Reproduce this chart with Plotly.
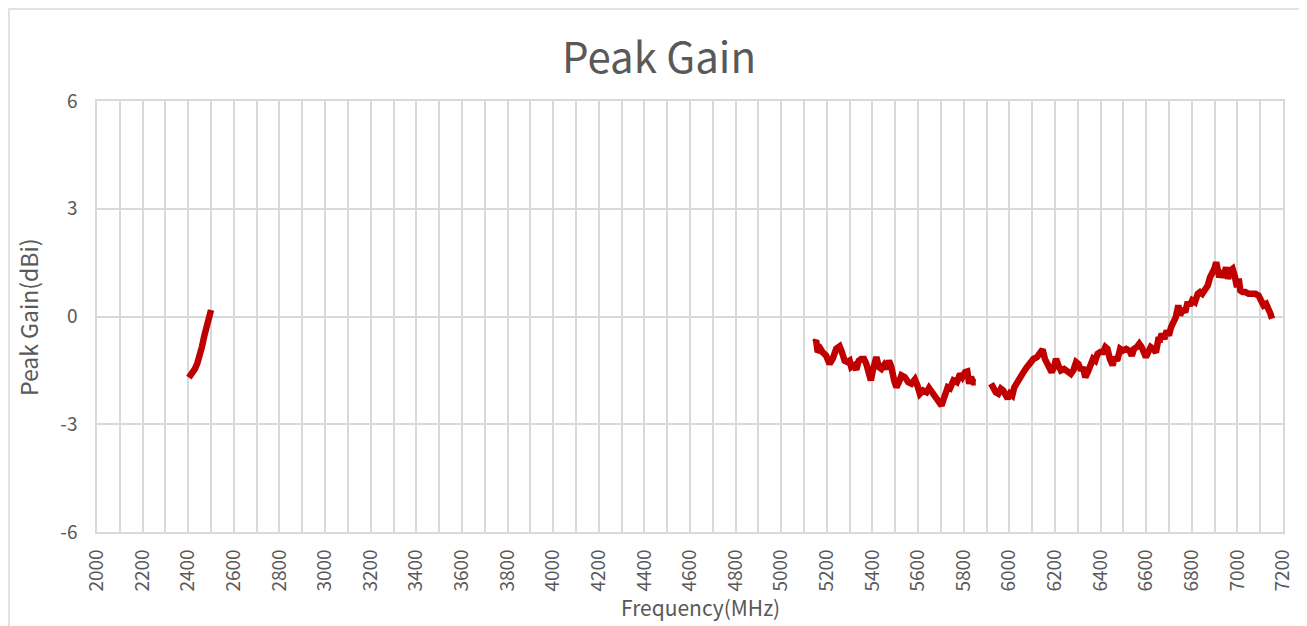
import plotly.graph_objects as go

# Segment 1: 2.4 GHz band
freq_24 = [2403, 2410, 2420, 2430, 2440, 2450, 2460, 2470, 2480, 2490, 2500]
gain_24 = [-1.70, -1.65, -1.55, -1.45, -1.30, -1.12, -0.85, -0.55, -0.30, -0.05, 0.18]

# Segment 2: 5.1-5.85 GHz
freq_5a = [5146, 5153, 5160, 5172, 5182, 5197, 5212, 5226, 5241, 5256, 5266, 5278, 5290, 5300,
           5307, 5319, 5329, 5340, 5351, 5363, 5373, 5384, 5393, 5403, 5417, 5428, 5439, 5451,
           5461, 5472, 5483, 5495, 5505, 5516, 5527, 5542, 5557, 5571, 5586, 5597, 5608, 5622,
           5637, 5648, 5662, 5677, 5691, 5703, 5710, 5721, 5730, 5740, 5755, 5770, 5784, 5794,
           5806, 5816, 5824, 5832, 5842, 5853]
gain_5a = [-0.72, -0.67, -0.99, -0.90, -1.00, -1.09, -1.32, -1.17, -0.90, -0.83, -0.99, -1.23, -1.27, -1.23,
           -1.41, -1.36, -1.48, -1.23, -1.18, -1.18, -1.32, -1.55, -1.78, -1.46, -1.13, -1.41, -1.46, -1.35,
           -1.46, -1.23, -1.41, -1.78, -1.97, -1.83, -1.64, -1.69, -1.83, -1.87, -1.75, -1.92, -2.15, -2.06,
           -2.11, -1.99, -2.11, -2.20, -2.34, -2.48, -2.34, -2.11, -1.97, -2.00, -1.78, -1.83, -1.60, -1.69,
           -1.55, -1.53, -1.87, -1.69, -1.83, -1.83]

# Segment 3: 5.92-7.15 GHz
freq_5b = [5920, 5930, 5941, 5952, 5963, 5973, 5984, 5993, 6003, 6013, 6022, 6033, 6047, 6062,
           6077, 6091, 6106, 6121, 6134, 6146, 6156, 6171, 6186, 6196, 6205, 6215, 6226, 6240,
           6255, 6270, 6281, 6293, 6303, 6314, 6323, 6333, 6344, 6355, 6367, 6377, 6387, 6399,
           6411, 6421, 6430, 6441, 6453, 6463, 6473, 6486, 6497, 6512, 6526, 6537, 6547, 6559,
           6570, 6580, 6590, 6599, 6609, 6620, 6631, 6643, 6653, 6661, 6668, 6680, 6690, 6700,
           6709, 6719, 6730, 6741, 6749, 6759, 6771, 6782, 6792, 6802, 6814, 6826, 6836, 6846,
           6858, 6870, 6880, 6890, 6899, 6907, 6914, 6921, 6929, 6939, 6950, 6959, 6969, 6979,
           6988, 6998, 7006, 7013, 7023, 7035, 7049, 7064, 7079, 7093, 7105, 7115, 7126, 7135,
           7145, 7152]
gain_5b = [-1.87, -2.01, -2.11, -2.15, -2.01, -2.06, -2.25, -2.29, -2.15, -2.20, -1.97, -1.83, -1.69, -1.55,
           -1.41, -1.27, -1.18, -1.13, -0.97, -0.92, -1.18, -1.36, -1.55, -1.41, -1.18, -1.36, -1.50, -1.46,
           -1.55, -1.60, -1.50, -1.27, -1.32, -1.50, -1.41, -1.69, -1.55, -1.41, -1.18, -1.23, -1.04, -0.99,
           -0.99, -0.85, -0.90, -1.18, -1.36, -1.13, -1.23, -0.90, -0.95, -0.90, -0.95, -1.09, -0.90, -0.85,
           -0.76, -0.85, -1.04, -1.13, -0.99, -0.85, -0.90, -1.00, -0.65, -0.65, -0.48, -0.62, -0.39, -0.53,
           -0.30, -0.16, -0.02, 0.31, 0.03, 0.21, 0.12, 0.40, 0.31, 0.45, 0.40, 0.63, 0.68, 0.63,
           0.77, 0.86, 1.09, 1.19, 1.33, 1.51, 1.33, 1.09, 1.28, 1.09, 1.37, 1.05, 1.28, 1.33,
           1.14, 0.82, 1.05, 0.72, 0.68, 0.68, 0.63, 0.63, 0.63, 0.58, 0.45, 0.31, 0.35, 0.26,
           0.08, -0.06]

x_ticks = list(range(2000, 7201, 200))
y_ticks = [-6, -3, 0, 3, 6]

FONT = "Noto Sans CJK SC"
GRAY = "#595959"
GRID = "#d9d9d9"
RED = "#c00000"

# plot area in page pixels (page body has an 8px offset)
PL, PR, PT, PB = 97, 1283, 101, 532
PW, PH = PR - PL, PB - PT

fig = go.Figure()
for fx, gy in [(freq_24, gain_24), (freq_5a, gain_5a), (freq_5b, gain_5b)]:
    fig.add_trace(go.Scatter(x=fx, y=gy, mode="lines",
                             line=dict(color=RED, width=6.5), showlegend=False))

fig.update_layout(
    width=1307, height=626,
    margin=dict(l=PL - 8, r=1307 + 8 - PR, t=PT - 8, b=626 + 8 - PB, autoexpand=False),
    paper_bgcolor="white", plot_bgcolor="white",
    font=dict(family=FONT, color=GRAY),
    title=dict(text="Peak Gain", x=(659 - 8) / 1307, xanchor="center",
               y=1 - (58 - 8) / 626, yanchor="middle",
               font=dict(family=FONT, size=42, color=GRAY)),
    xaxis=dict(range=[2000, 7200], tickvals=x_ticks, ticktext=[str(v) for v in x_ticks],
               tickangle=-90, tickfont=dict(size=19, color=GRAY),
               showgrid=True, gridcolor=GRID, gridwidth=1.5,
               minor=dict(dtick=100, tick0=2000, showgrid=True, gridcolor=GRID, gridwidth=1.5),
               showline=True, mirror=True, linecolor=GRID, linewidth=1.5,
               zeroline=False, ticks="", ticklabelstandoff=8),
    yaxis=dict(range=[-6, 6], tickvals=y_ticks, ticktext=[str(v) for v in y_ticks],
               tickfont=dict(size=19, color=GRAY),
               showgrid=True, gridcolor=GRID, gridwidth=1.5,
               showline=True, mirror=True, linecolor=GRID, linewidth=1.5,
               zeroline=False, ticks="", ticklabelstandoff=14),
    annotations=[
        dict(text="Frequency(MHz)", xref="paper", yref="paper", x=(700 - PL) / PW,
             y=(PB - 607) / PH, xanchor="center", yanchor="middle", showarrow=False,
             font=dict(family=FONT, size=21, color=GRAY)),
        dict(text="Peak Gain(dBi)", xref="paper", yref="paper", x=(28 - PL) / PW,
             y=(PB - 317) / PH, xanchor="center", yanchor="middle", showarrow=False,
             textangle=-90, font=dict(family=FONT, size=23, color=GRAY)),
    ],
    shapes=[dict(type="rect", xref="paper", yref="paper",
                 x0=(9 - PL) / PW, x1=(1303.5 - PL) / PW,
                 y0=(PB - 640) / PH, y1=(PB - 9) / PH,
                 line=dict(color=GRID, width=1.5), fillcolor="rgba(0,0,0,0)", layer="below")],
)

fig.write_html("out.html")
